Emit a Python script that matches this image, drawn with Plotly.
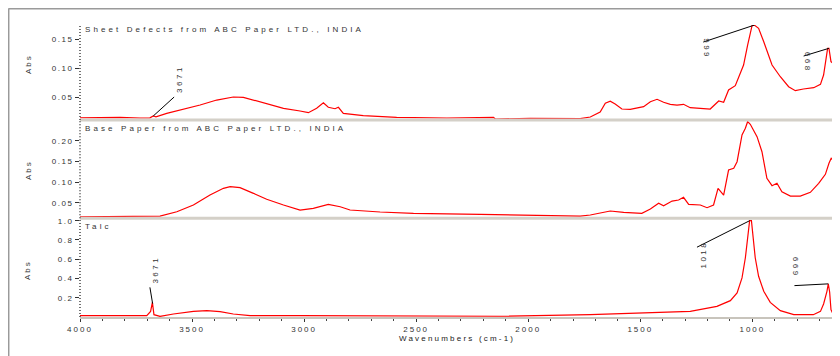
import plotly.graph_objects as go

# ---------------- data ----------------
sheet_wn = [4000, 3911, 3821, 3732, 3688, 3673, 3661, 3613, 3539, 3464, 3390, 3316, 3271, 3226, 3167,
            3092, 3018, 2981, 2944, 2914, 2892, 2862, 2847, 2825, 2736, 2587, 2363, 2155, 2147, 1991,
            1768, 1723, 1679, 1656, 1634, 1612, 1582, 1545, 1485, 1455, 1425, 1396, 1366, 1336, 1307,
            1277, 1188, 1165, 1150, 1128, 1106, 1076, 1039, 1021, 1001, 991, 972, 949, 912, 875,
            838, 808, 772, 726, 696, 682, 664, 658, 649, 640]
sheet_abs = [0.0148, 0.0152, 0.0155, 0.0143, 0.0147, 0.0178, 0.0164, 0.0224, 0.0293, 0.0367, 0.0453, 0.0505, 0.0500, 0.0453, 0.0379,
             0.0310, 0.0264, 0.0235, 0.0310, 0.0407, 0.0328, 0.0303, 0.0328, 0.0224, 0.0183, 0.0155, 0.0143, 0.0155, 0.0126, 0.0138,
             0.0131, 0.0160, 0.0247, 0.0400, 0.0434, 0.0384, 0.0298, 0.0293, 0.0338, 0.0424, 0.0466, 0.0414, 0.0379, 0.0367, 0.0379,
             0.0321, 0.0298, 0.0379, 0.0436, 0.0414, 0.0626, 0.0700, 0.1057, 0.1402, 0.1740, 0.1745, 0.1690, 0.1459, 0.1057, 0.0855,
             0.0683, 0.0614, 0.0643, 0.0666, 0.0724, 0.0884, 0.1345, 0.1345, 0.1116, 0.1088]

base_wn = [4000, 3821, 3643, 3568, 3494, 3420, 3360, 3330, 3286, 3226, 3167, 3092, 3018, 2959, 2892,
           2839, 2795, 2661, 2512, 2214, 1917, 1768, 1723, 1634, 1574, 1493, 1455, 1418, 1396, 1358,
           1329, 1307, 1284, 1232, 1202, 1188, 1173, 1153, 1128, 1106, 1083, 1068, 1046, 1031, 1021,
           1009, 979, 957, 935, 912, 890, 868, 830, 786, 741, 704, 674, 658, 648, 640]
base_abs = [0.0164, 0.0169, 0.0181, 0.0285, 0.0447, 0.0688, 0.0850, 0.0889, 0.0865, 0.0729, 0.0585, 0.0447, 0.0326, 0.0367, 0.0464,
            0.0406, 0.0326, 0.0278, 0.0246, 0.0222, 0.0188, 0.0181, 0.0205, 0.0302, 0.0271, 0.0246, 0.0350, 0.0488, 0.0430, 0.0543,
            0.0568, 0.0633, 0.0464, 0.0447, 0.0382, 0.0406, 0.0447, 0.0850, 0.0688, 0.1292, 0.1333, 0.1493, 0.2138, 0.2300, 0.2459,
            0.2396, 0.2097, 0.1734, 0.1092, 0.0913, 0.0971, 0.0768, 0.0664, 0.0664, 0.0754, 0.0971, 0.1188, 0.1454, 0.1575, 0.1534]

talc_wn = [4000, 3850, 3702, 3685, 3677, 3670, 3643, 3583, 3494, 3434, 3375, 3316, 3241, 3018, 2571,
           2125, 1723, 1425, 1277, 1158, 1098, 1068, 1046, 1031, 1021, 1012, 1004, 997, 987, 972,
           949, 920, 875, 815, 728, 696, 682, 667, 661, 655, 649, 640]
talc_abs = [0.0135, 0.012, 0.0135, 0.058, 0.152, 0.024, 0.006, 0.031, 0.058, 0.066, 0.055, 0.031, 0.0135, 0.0135, 0.010,
            0.008, 0.024, 0.042, 0.058, 0.110, 0.170, 0.250, 0.406, 0.615, 0.823, 1.0, 1.0, 0.857, 0.615, 0.423,
            0.267, 0.152, 0.066, 0.024, 0.024, 0.058, 0.135, 0.267, 0.344, 0.260, 0.076, 0.031]

panel_titles = ["Sheet Defects from ABC Paper LTD., INDIA",
                "Base Paper from ABC Paper LTD., INDIA",
                "Talc"]
y_title = "Abs"
x_title = "Wavenumbers (cm-1)"

x_ticks = [4000, 3500, 3000, 2500, 2000, 1500, 1000]
y1_ticks = [0.05, 0.10, 0.15]
y2_ticks = [0.05, 0.10, 0.15, 0.20]
y3_ticks = [0.2, 0.4, 0.6, 0.8, 1.0]

# peak labels: panel, text
peak_labels = [(1, "3671"), (1, "999"), (1, "668"), (3, "3671"), (3, "1018"), (3, "669")]

# ---------------- layout helpers ----------------
FONT = "Liberation Sans, Arial, sans-serif"
TXT = "#333333"
RED = "#ff0000"
SEP = "#d4d0c8"


def sp(s, ls=2.5):
    return f'<span style="letter-spacing:{ls}px">{s}</span>'


dom3 = [0.0, 0.338]
dom2 = [0.338, 0.6747]
dom1 = [0.6747, 1.0]
X_RANGE = [4000, 640]

fig = go.Figure()
fig.add_trace(go.Scatter(x=sheet_wn, y=sheet_abs, xaxis="x", yaxis="y", mode="lines",
                         line=dict(color=RED, width=1.2), hoverinfo="skip", showlegend=False))
fig.add_trace(go.Scatter(x=base_wn, y=base_abs, xaxis="x2", yaxis="y2", mode="lines",
                         line=dict(color=RED, width=1.2), hoverinfo="skip", showlegend=False))
fig.add_trace(go.Scatter(x=talc_wn, y=talc_abs, xaxis="x3", yaxis="y3", mode="lines",
                         line=dict(color=RED, width=1.2), hoverinfo="skip", showlegend=False))


def yaxis(dom, rng, ticks, fmt):
    return dict(domain=dom, range=rng, tickmode="array", tickvals=ticks,
                ticktext=[sp(fmt.format(t), 1.5) for t in ticks],
                ticks="outside", ticklen=4, tickwidth=1, tickcolor="#333",
                showgrid=False, zeroline=False, showline=False,
                tickfont=dict(family=FONT, size=8, color=TXT))


def xaxis(anchor, show):
    d = dict(domain=[0, 1], range=X_RANGE, anchor=anchor, showgrid=False, zeroline=False)
    if show:
        d.update(tickmode="array", tickvals=x_ticks, ticktext=[sp(str(t), 2) for t in x_ticks],
                 ticks="outside", ticklen=3, tickwidth=1, tickcolor="#333",
                 showline=True, linecolor="#c8c4bc", linewidth=2,
                 minor=dict(dtick=100, ticks="outside", ticklen=2, tickcolor="#444", tickwidth=1),
                 tickfont=dict(family=FONT, size=8, color=TXT))
    else:
        d.update(showticklabels=False, ticks="", showline=False)
    return d


fig.update_layout(
    width=832, height=348,
    margin=dict(l=72, r=7, t=17, b=39),
    paper_bgcolor="white", plot_bgcolor="white",
    xaxis=xaxis("y", False), xaxis2=xaxis("y2", False), xaxis3=xaxis("y3", True),
    yaxis=yaxis(dom1, [0.0109, 0.1747], y1_ticks, "{:.2f}"),
    yaxis2=yaxis(dom2, [0.0126, 0.25], y2_ticks, "{:.2f}"),
    yaxis3=yaxis(dom3, [0.0, 1.025], y3_ticks, "{:.1f}"),
    showlegend=False,
)

shapes = []
# outer frame (top and left edges of the figure)
FX, FY = -0.0950, 1.0565
shapes.append(dict(type="line", xref="paper", yref="paper", x0=FX, x1=1.2, y0=FY, y1=FY,
                   line=dict(color="#9a9a9a", width=2)))
shapes.append(dict(type="line", xref="paper", yref="paper", x0=FX, x1=FX, y0=-0.3, y1=FY,
                   line=dict(color="#9a9a9a", width=2)))
# panel separators
for yv in [dom1[0], dom2[0]]:
    shapes.append(dict(type="line", xref="paper", yref="paper", x0=0, x1=1, y0=yv, y1=yv,
                       line=dict(color=SEP, width=3)))
# dotted left axis lines
for ya in ["y", "y2", "y3"]:
    shapes.append(dict(type="line", xref="paper", yref=f"{ya} domain", x0=0, x1=0, y0=0, y1=1,
                       line=dict(color="#444", width=1.5, dash="1px,2px")))

# peak label geometry: (text x, text y, angle, line x0, y0, x1, y1)
peak_geom = [
    (3554, 0.0816, -90, 3673, 0.0178, 3580, 0.0505),
    (1203, 0.1333, 90, 1219, 0.1453, 991, 0.1745),
    (753, 0.1100, 90, 771, 0.1212, 658, 0.1345),
    (3665, 0.493, -90, 3688, 0.308, 3676, 0.139),
    (1220, 0.649, -90, 1247, 0.725, 1012, 1.0),
    (804, 0.519, 90, 812, 0.326, 661, 0.344),
]

annotations = []
for (panel, label), (tx, ty, ang, lx0, ly0, lx1, ly1) in zip(peak_labels, peak_geom):
    xr = "x" if panel == 1 else f"x{panel}"
    yr = "y" if panel == 1 else f"y{panel}"
    shapes.append(dict(type="line", xref=xr, yref=yr, x0=lx0, y0=ly0, x1=lx1, y1=ly1,
                       line=dict(color="black", width=1)))
    annotations.append(dict(xref=xr, yref=yr, x=tx, y=ty, text=sp(label, 2.5), textangle=ang,
                            showarrow=False, font=dict(family=FONT, size=8, color=TXT)))

# panel titles
for title, yp in zip(panel_titles, [0.983, 0.647, 0.309]):
    annotations.append(dict(xref="paper", yref="paper", x=0.004, y=yp, xanchor="left", yanchor="middle",
                            text=sp(title, 3.1), showarrow=False,
                            font=dict(family=FONT, size=8, color=TXT)))
# y titles
for yp in [0.8664, 0.5034, 0.161]:
    annotations.append(dict(xref="paper", yref="paper", x=-0.069, y=yp, xanchor="center", yanchor="middle",
                            text=sp(y_title, 2), textangle=-90, showarrow=False,
                            font=dict(family=FONT, size=8, color=TXT)))
# x title
annotations.append(dict(xref="paper", yref="paper", x=0.5, y=-0.072, xanchor="center", yanchor="middle",
                        text=sp(x_title, 2.2), showarrow=False,
                        font=dict(family=FONT, size=8, color="#222")))

fig.update_layout(shapes=shapes, annotations=annotations)
fig.write_html("out.html")
